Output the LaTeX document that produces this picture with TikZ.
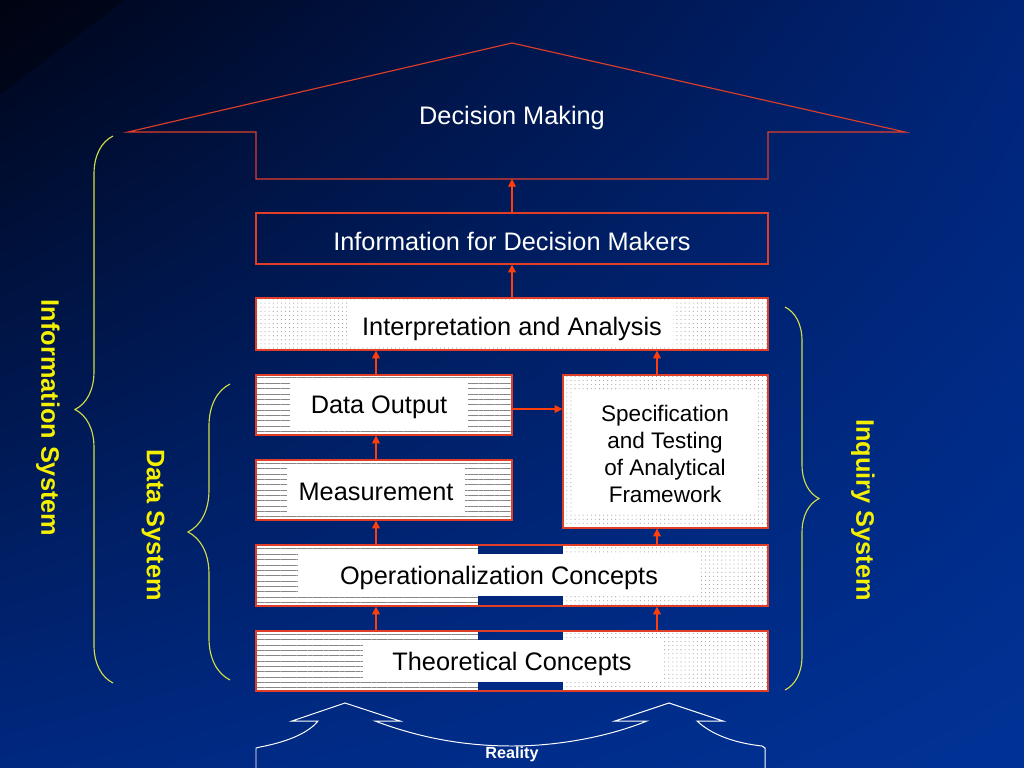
\documentclass[tikz,border=0pt]{standalone}
\usepackage{fontspec}
\setmainfont{Liberation Sans}
\usetikzlibrary{arrows.meta,fit,patterns.meta,decorations.pathreplacing,shadings}
\definecolor{bgcorner}{RGB}{0,5,25}
\definecolor{bgtopright}{RGB}{0,36,120}
\definecolor{bglowleft}{RGB}{0,40,128}
\definecolor{bgblue}{RGB}{0,50,150}
\definecolor{framered}{RGB}{225,62,40}
\definecolor{arrowred}{RGB}{255,62,12}
\definecolor{bracegreen}{RGB}{210,222,70}
\definecolor{labelyellow}{RGB}{245,240,0}
\definecolor{hatchgray}{RGB}{135,135,135}
\definecolor{dotgray}{RGB}{160,160,160}

\begin{document}
\begin{tikzpicture}[
x=0.025cm, y=-0.025cm,
frame/.style={inner sep=0pt, draw=framered, line width=0.9pt},
boxtext/.style={inner sep=0pt, align=center, font=\fontsize{18}{21.6}\selectfont},
lined/.style={fill=white, postaction={pattern={Lines[angle=0,distance=3.8pt,line width=0.6pt]}, pattern color=hatchgray}},
dotfill/.style={fill=white, postaction={pattern={Dots[distance=2.9pt,radius=0.4pt]}, pattern color=dotgray}},
arr/.style={-{Triangle[length=5.5pt,width=5.5pt]}, draw=arrowred, line width=0.9pt},
sysbrace/.style={draw=bracegreen, line width=0.8pt, decorate, decoration={brace, amplitude=#1}},
syslabel/.style={text=labelyellow, font=\bfseries\fontsize{18}{21.6}\selectfont, rotate=-90}
]
\useasboundingbox (0,0) rectangle (1024,768);
\shade[upper left=bgcorner, upper right=bgtopright, lower left=bglowleft, lower right=bgblue] (0,0) rectangle (1024,768);
\fill[black, opacity=0.3] (0,0) -- (125,0) -- (0,95) -- cycle;

% decision making
\draw[framered, line width=0.8pt] (128,132) -- (512,43) -- (905,132) -- (768,132) -- (768,179) -- (256,179) -- (256,132) -- cycle;
\node[boxtext, text=white] (dm) at (512,118) {Decision Making};
\coordinate (hb) at (512,179);

\node[frame, fit={(256,213) (768,264)}] (info) {};
\node[boxtext, text=white, yshift=-2pt] (infotext) at (info.center) {Information for Decision Makers};

% interpretation
\fill[dotfill] (256,298) rectangle (768,350);
\fill[white] (350,302) rectangle (673,346);
\node[boxtext] (iatext) at (512,329) {Interpretation and Analysis};
\node[frame, fit={(256,298) (768,350)}] (ia) {};

% data system boxes
\fill[lined] (256,375) rectangle (512,435);
\fill[white] (290,379) rectangle (468,431);
\node[boxtext] (dotext) at (379,407) {Data Output};
\node[frame, fit={(256,375) (512,435)}] (dout) {};

\fill[lined] (256,460) rectangle (512,520);
\fill[white] (287,465) rectangle (465,515);
\node[boxtext] (mtext) at (376,492) {Measurement};
\node[frame, fit={(256,460) (512,520)}] (meas) {};

% inquiry box
\fill[dotfill] (563,375) rectangle (768,528);
\fill[white] (573,390) rectangle (757,513);
\node[boxtext, font=\fontsize{16}{19.2}\selectfont] (stext) at (665,454) {Specification\\ and Testing\\ of Analytical\\ Framework};
\node[frame, fit={(563,375) (768,528)}] (spec) {};

% concepts
\fill[lined] (256,545) rectangle (478,606);
\fill[dotfill] (563,545) rectangle (768,606);
\fill[white] (298,554) rectangle (700,596);
\node[boxtext] (otext) at (499,578) {Operationalization Concepts};
\node[frame, fit={(256,545) (768,606)}] (oper) {};

\fill[lined] (256,631) rectangle (478,691);
\fill[dotfill] (563,631) rectangle (768,691);
\fill[white] (363,640) rectangle (662,682);
\node[boxtext] (ttext) at (512,664) {Theoretical Concepts};
\node[frame, fit={(256,631) (768,691)}] (theo) {};

% arrows
\coordinate (lx) at (376,0);
\coordinate (rx) at (657,0);
\coordinate (hy) at (0,409);
\draw[arr] (theo.north -| lx) -- (oper.south -| lx);
\draw[arr] (theo.north -| rx) -- (oper.south -| rx);
\draw[arr] (oper.north -| lx) -- (meas.south -| lx);
\draw[arr] (oper.north -| rx) -- (spec.south -| rx);
\draw[arr] (meas.north -| lx) -- (dout.south -| lx);
\draw[arr] (dout.north -| lx) -- (ia.south -| lx);
\draw[arr] (spec.north -| rx) -- (ia.south -| rx);
\draw[arr] (dout.east |- hy) -- (spec.west |- hy);
\draw[arr] (ia.north) -- (info.south);
\draw[arr] (info.north) -- (hb);

% braces
\coordinate (istop) at (113,136);
\coordinate (isbot) at (113,683);
\draw[sysbrace=0.95cm] (isbot) -- (istop);
\node[syslabel] (islabel) at (48,418) {Information System};

\coordinate (dstop) at (230,384);
\coordinate (dsbot) at (230,680);
\draw[sysbrace=1.05cm] (dsbot) -- (dstop);
\node[syslabel] (dslabel) at (153,525) {Data System};

\coordinate (qstop) at (785,307);
\coordinate (qsbot) at (785,690);
\draw[sysbrace=0.85cm] (qstop) -- (qsbot);
\node[syslabel] (qslabel) at (863,510) {Inquiry System};

% reality
\draw[white, line width=0.7pt] (256,768) -- (256,748) -- (260,747) .. controls (292,741) and (310,731) .. (318,721) -- (292,721) -- (345,703) -- (400,721) -- (375,721) .. controls (420,738) and (465,746) .. (512,746) .. controls (560,746) and (610,736) .. (647,721) -- (615,721) -- (669,703) -- (723,721) -- (697,721) .. controls (712,735) and (735,743) .. (762,746) -- (765,748) -- (765,768);
\node[text=white, font=\bfseries\fontsize{11.5}{13.8}\selectfont] (real) at (512,754) {Reality};
\end{tikzpicture}
\end{document}
